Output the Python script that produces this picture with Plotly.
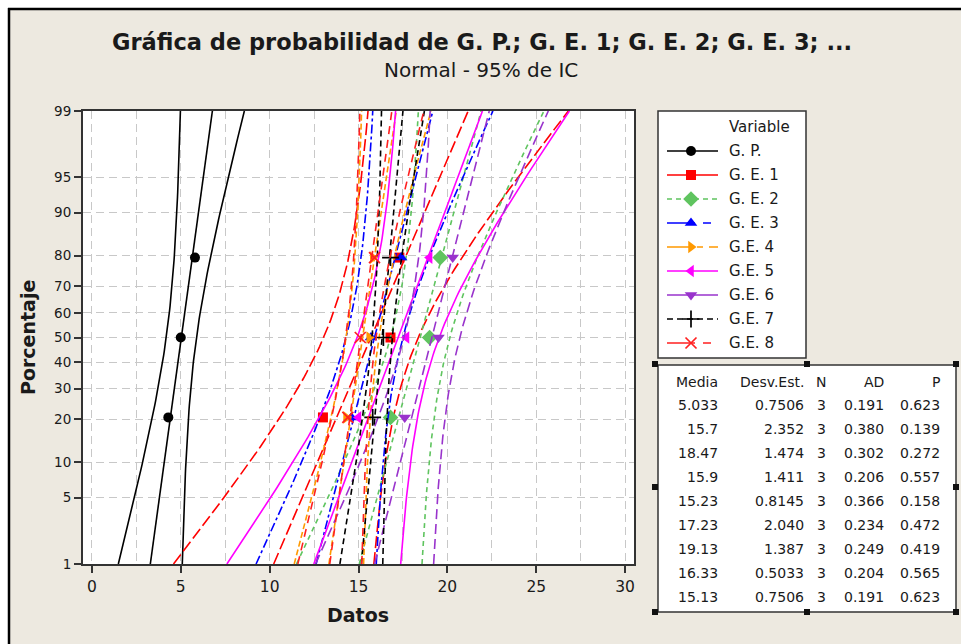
import math
from statistics import NormalDist
import plotly.graph_objects as go

# ---------------- data ----------------
series_names = ["G. P.", "G. E. 1", "G. E. 2", "G. E. 3", "G.E. 4",
                "G.E. 5", "G.E. 6", "G.E. 7", "G.E. 8"]
gp = [4.3, 5.0, 5.8]
ge1 = [13.0, 16.8, 17.3]
ge2 = [16.8, 19.0, 19.6]
ge3 = [14.6, 15.7, 17.4]
ge4 = [14.3, 15.6, 15.8]
ge5 = [15.0, 17.7, 19.0]
ge6 = [17.6, 19.5, 20.3]
ge7 = [15.8, 16.4, 16.8]
ge8 = [14.4, 15.1, 15.9]
series_values = [gp, ge1, ge2, ge3, ge4, ge5, ge6, ge7, ge8]

media = [5.033, 15.7, 18.47, 15.9, 15.23, 17.23, 19.13, 16.33, 15.13]
desv_est = [0.7506, 2.352, 1.474, 1.411, 0.8145, 2.040, 1.387, 0.5033, 0.7506]
n_vals = [3, 3, 3, 3, 3, 3, 3, 3, 3]
ad_vals = [0.191, 0.380, 0.302, 0.206, 0.366, 0.234, 0.249, 0.204, 0.191]
p_vals = [0.623, 0.139, 0.272, 0.557, 0.158, 0.472, 0.419, 0.565, 0.623]

media_txt = ["5.033", "15.7", "18.47", "15.9", "15.23", "17.23", "19.13", "16.33", "15.13"]
desv_txt = ["0.7506", "2.352", "1.474", "1.411", "0.8145", "2.040", "1.387", "0.5033", "0.7506"]
ad_txt = ["0.191", "0.380", "0.302", "0.206", "0.366", "0.234", "0.249", "0.204", "0.191"]
p_txt = ["0.623", "0.139", "0.272", "0.557", "0.158", "0.472", "0.419", "0.565", "0.623"]

pct_ticks = [1, 5, 10, 20, 30, 40, 50, 60, 70, 80, 90, 95, 99]
x_ticks = [0, 5, 10, 15, 20, 25, 30]

# ---------------- styles ----------------
colors = ["#000000", "#FF0000", "#5FC45F", "#0000FF", "#FF9900",
          "#FF00FF", "#9933CC", "#000000", "#FF2020"]
dashes = ["solid", "12px,4px", "5px,4px", "9px,3px,3px,3px", "6px,3px",
          "solid", "10px,5px", "6px,4px", "8px,6px"]
legend_dashes = ["solid", "solid", "5px,4px", "28px,8px,8px,8px", "24px,6px,6px,6px",
                 "solid", "solid", "6px,4px", "28px,8px,8px,8px"]
symbols = ["circle", "square", "diamond", "triangle-up", "triangle-right",
           "triangle-left", "triangle-down", "cross-thin-open", "x-thin-open"]
msizes = [10, 10, 12, 11, 11, 11, 11, 12, 11]

W, H = 961, 644
FONT = "DejaVu Sans"
BG = "#EDE9E0"
nd = NormalDist()
zlo, zhi = nd.inv_cdf(0.01), nd.inv_cdf(0.99)

def px(x):
    return x / W

def py(y):
    return 1 - y / H

# plot area in pixels
PL, PR, PT, PB = 83, 634, 111, 564

fig = go.Figure()

zgrid = [zlo + (zhi - zlo) * k / 100 for k in range(101)]
zcrit = nd.inv_cdf(0.975)

def marker_for(i):
    mk = dict(symbol=symbols[i], size=msizes[i], color=colors[i])
    if symbols[i].endswith("open"):
        mk["line"] = dict(color=colors[i], width=1.7)
    else:
        mk["line"] = dict(width=0)
    return mk

for i, name in enumerate(series_names):
    vals = sorted(series_values[i])
    n = len(vals)
    m, s = media[i], desv_est[i]
    c4 = math.sqrt(2.0 / (n - 1)) * math.gamma(n / 2) / math.gamma((n - 1) / 2)
    kvar = 1 - c4 ** 2
    center = [m + s * z for z in zgrid]
    hw = [zcrit * s * math.sqrt(1.0 / n + z * z * kvar) for z in zgrid]
    lower = [c - h for c, h in zip(center, hw)]
    upper = [c + h for c, h in zip(center, hw)]
    line = dict(color=colors[i], width=1.6, dash=dashes[i])
    for xs in (lower, center, upper):
        fig.add_trace(go.Scatter(x=xs, y=zgrid, mode="lines", line=line,
                                 showlegend=False, hoverinfo="skip"))
    zpts = [nd.inv_cdf((j + 1 - 0.3) / (n + 0.4)) for j in range(n)]
    fig.add_trace(go.Scatter(x=vals, y=zpts, mode="markers", marker=marker_for(i),
                             name=name, showlegend=False))

# ---------------- custom legend on overlay axes ----------------
leg_y0, leg_dy = 151, 24
for i, name in enumerate(series_names):
    yy = leg_y0 + i * leg_dy
    fig.add_trace(go.Scatter(x=[667, 718], y=[yy, yy], mode="lines",
                             line=dict(color=colors[i], width=1.6, dash=legend_dashes[i]),
                             xaxis="x2", yaxis="y2", showlegend=False,
                             hoverinfo="skip", cliponaxis=False))
    fig.add_trace(go.Scatter(x=[691], y=[yy], mode="markers", marker=marker_for(i),
                             xaxis="x2", yaxis="y2", showlegend=False,
                             hoverinfo="skip", cliponaxis=False))

annotations = []
shapes = []

def text(x, y, t, size=13, bold=False, xanchor="center", angle=0, color="#1a1a1a", family=FONT):
    annotations.append(dict(x=px(x), y=py(y), xref="paper", yref="paper", text=t,
                            showarrow=False, xanchor=xanchor, yanchor="middle",
                            textangle=angle,
                            font=dict(family=family, size=size, color=color,
                                      weight=700 if bold else 400)))

def rect(x0, y0, x1, y1, fill=None, line_color=None, lw=1, layer="below"):
    shapes.append(dict(type="rect", xref="paper", yref="paper",
                       x0=px(x0), x1=px(x1), y0=py(y1), y1=py(y0),
                       fillcolor=fill if fill else "rgba(0,0,0,0)",
                       line=dict(color=line_color if line_color else "rgba(0,0,0,0)",
                                 width=lw if line_color else 0),
                       layer=layer))

# frame: white strip on top/left and black border lines
rect(0, 0, W, 8, fill="#FFFFFF")
rect(0, 0, 8, H, fill="#FFFFFF")
shapes.append(dict(type="line", xref="paper", yref="paper", x0=px(8), x1=px(W),
                   y0=py(9), y1=py(9), line=dict(color="#000000", width=2.5)))
shapes.append(dict(type="line", xref="paper", yref="paper", x0=px(9), x1=px(9),
                   y0=py(8), y1=py(H), line=dict(color="#000000", width=2.5)))
# white plot area
rect(PL, PT, PR, PB, fill="#FFFFFF")
# legend box
rect(658, 111, 806, 358, fill="#FFFFFF", line_color="#333333", lw=1.5)
# table box
rect(658, 365, 956, 612, fill="#FFFFFF", line_color="#333333", lw=1.5)
for hx in (655, 807, 956):
    for hy in (364, 612):
        rect(hx - 3, hy - 3, hx + 3, hy + 3, fill="#111111", layer="above")
for hx in (655, 956):
    rect(hx - 3, 487 - 3, hx + 3, 487 + 3, fill="#111111", layer="above")

# titles
text(482, 42, "Gráfica de probabilidad de G. P.; G. E. 1; G. E. 2; G. E. 3; ...", size=22.5, bold=True)
text(481, 70, "Normal - 95% de IC", size=20)
text(28, 338, "Porcentaje", size=19, bold=True, angle=-90)
text(358, 615, "Datos", size=19, bold=True)

# legend texts
text(727, 127, "Variable", size=15, xanchor="left")
for i, name in enumerate(series_names):
    text(727, leg_y0 + i * leg_dy, name, size=15, xanchor="left")

# table texts
hdr_y, row_y0, row_dy = 382, 405, 24
col_right = [720, 806, 828, 886, 942]
headers = ["Media", "Desv.Est.", "N", "AD", "P"]
for c, h in enumerate(headers):
    text(col_right[c], hdr_y, h, size=14, xanchor="right")
for r in range(len(series_names)):
    row = [media_txt[r], desv_txt[r], str(n_vals[r]), ad_txt[r], p_txt[r]]
    for c, v in enumerate(row):
        text(col_right[c], row_y0 + r * row_dy, v, size=14, xanchor="right")

fig.update_layout(
    width=W, height=H,
    margin=dict(l=0, r=0, t=0, b=0, pad=0, autoexpand=False),
    paper_bgcolor=BG, plot_bgcolor="rgba(0,0,0,0)",
    showlegend=False,
    font=dict(family=FONT, color="#1a1a1a"),
    xaxis=dict(domain=[px(PL), px(PR)], range=[-0.5, 30.5], tickvals=x_ticks,
               showgrid=True, gridcolor="#C8C8C8", griddash="8px,5px", gridwidth=1.3,
               minor=dict(dtick=2.5, tick0=0, showgrid=True, gridcolor="#C8C8C8",
                          griddash="8px,5px", gridwidth=1.3, ticks=""),
               zeroline=False, showline=True, linecolor="#333333", linewidth=2,
               mirror=True, ticks="outside", ticklen=7, tickwidth=1.5,
               tickcolor="#333333", tickfont=dict(family=FONT, size=15.5, color="#1a1a1a"),
               anchor="y", automargin=False),
    yaxis=dict(domain=[py(PB), py(PT)], range=[zlo, zhi],
               tickvals=[nd.inv_cdf(p / 100) for p in pct_ticks],
               ticktext=[str(p) for p in pct_ticks],
               showgrid=True, gridcolor="#C8C8C8", griddash="8px,5px", gridwidth=1.3,
               zeroline=False, showline=True, linecolor="#333333", linewidth=2,
               mirror=True, ticks="outside", ticklen=7, tickwidth=1.5,
               tickcolor="#333333", tickfont=dict(family=FONT, size=13.5, color="#1a1a1a"),
               anchor="x", automargin=False),
    xaxis2=dict(domain=[0, 1], range=[0, W], visible=False, anchor="y2",
                fixedrange=True, automargin=False),
    yaxis2=dict(domain=[0, 1], range=[H, 0], visible=False, anchor="x2",
                fixedrange=True, automargin=False),
    annotations=annotations,
    shapes=shapes,
)

fig.write_html("out.html",
               config={"displayModeBar": False},
               post_script="document.body.style.margin='0px';document.body.style.overflow='hidden';")
